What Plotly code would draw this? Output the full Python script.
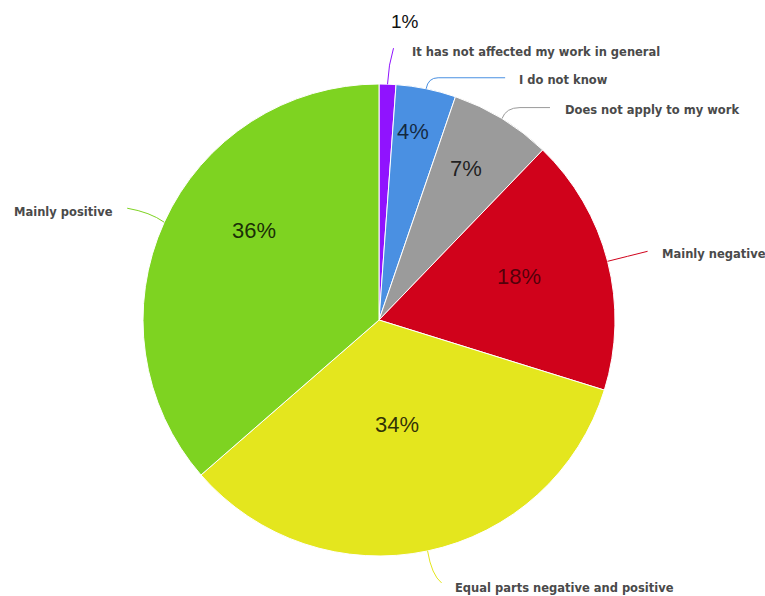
import math
import plotly.graph_objects as go

# ---- data ----
categories = [
    "It has not affected my work in general",
    "I do not know",
    "Does not apply to my work",
    "Mainly negative",
    "Equal parts negative and positive",
    "Mainly positive",
]
values = [1.15, 4.1, 6.95, 17.6, 33.8, 36.4]
colors = ["#9013FE", "#4A90E2", "#9B9B9B", "#D0021B", "#E4E61E", "#7ED321"]

# ---- layout / style constants ----
W, H = 765, 596
CX, CY, R = 379, 320, 236  # pie centre and radius in px

# percent label placement (radius fraction, angle nudge in degrees)
pct_r = [1.27, 0.81, 0.74, 0.62, 0.45, 0.65]
pct_nudge = [3, -1.2, -1.6, -2.8, 2, 11]
pct_size = [19, 22, 22, 22, 22, 22]
pct_color = ["#111", "rgba(0,0,0,0.72)", "rgba(0,0,0,0.8)", "rgba(0,0,0,0.62)",
             "rgba(0,0,0,0.8)", "rgba(0,0,0,0.8)"]

# leader line offsets from the slice edge point (px): ctrl, corner, end, text, anchor
leaders = [
    dict(ctrl=(1, -20), corner=(6, -36), end=None, text=(22, -32), anchor="left"),
    dict(ctrl=(2, -11), corner=(12, -11), end=(79, -11), text=(91, -9), anchor="left"),
    dict(ctrl=(4, -11), corner=(18, -11), end=(48, -11), text=(61, -9), anchor="left"),
    dict(ctrl=(20, -5), corner=(40, -10), end=None, text=(52, -7), anchor="left"),
    dict(ctrl=(4, 24), corner=(14, 32), end=None, text=(25, 37), anchor="left"),
    dict(ctrl=(-14, -10), corner=(-37, -14), end=None, text=(-49, -10), anchor="right"),
]


def px2paper(x, y):
    return x / W, 1 - y / H


fig = go.Figure(
    go.Pie(
        labels=categories,
        values=values,
        sort=False,
        direction="clockwise",
        rotation=0,
        textinfo="none",
        hoverinfo="label+percent",
        marker=dict(colors=colors, line=dict(color="white", width=1)),
        domain=dict(x=[(CX - R) / W, (CX + R) / W], y=[1 - (CY + R) / H, 1 - (CY - R) / H]),
        showlegend=False,
    )
)

total = sum(values)
shapes = []
annotations = []
cum = 0.0
for i, v in enumerate(values):
    start = cum / total * 360
    cum += v
    end = cum / total * 360
    mid = (start + end) / 2
    # edge point
    ex = CX + R * math.sin(math.radians(mid))
    ey = CY - R * math.cos(math.radians(mid))
    L = leaders[i]
    c = (ex + L["ctrl"][0], ey + L["ctrl"][1])
    k = (ex + L["corner"][0], ey + L["corner"][1])
    p0 = px2paper(ex, ey)
    pc = px2paper(*c)
    pk = px2paper(*k)
    path = f"M {p0[0]},{p0[1]} Q {pc[0]},{pc[1]} {pk[0]},{pk[1]}"
    if L["end"] is not None:
        pe = px2paper(ex + L["end"][0], ey + L["end"][1])
        path += f" L {pe[0]},{pe[1]}"
    shapes.append(dict(type="path", xref="paper", yref="paper", path=path,
                       line=dict(color=colors[i], width=1)))
    tx, ty = px2paper(ex + L["text"][0], ey + L["text"][1])
    annotations.append(dict(
        x=tx, y=ty, xref="paper", yref="paper", text=f"<b>{categories[i]}</b>", showarrow=False,
        xanchor=L["anchor"], yanchor="middle",
        font=dict(family="DejaVu Sans", size=11.5, color="#4a4a4a"),
    ))
    # percentage label
    a = math.radians(mid + pct_nudge[i])
    lx = CX + pct_r[i] * R * math.sin(a)
    ly = CY - pct_r[i] * R * math.cos(a)
    qx, qy = px2paper(lx, ly)
    annotations.append(dict(
        x=qx, y=qy, xref="paper", yref="paper", text=f"{round(v / total * 100)}%",
        showarrow=False, xanchor="center", yanchor="middle",
        font=dict(family="Liberation Sans, Arial", size=pct_size[i], color=pct_color[i]),
    ))

fig.update_layout(
    width=W, height=H,
    margin=dict(l=0, r=0, t=0, b=0),
    paper_bgcolor="white", plot_bgcolor="white",
    shapes=shapes, annotations=annotations,
)

fig.write_html("out.html")
